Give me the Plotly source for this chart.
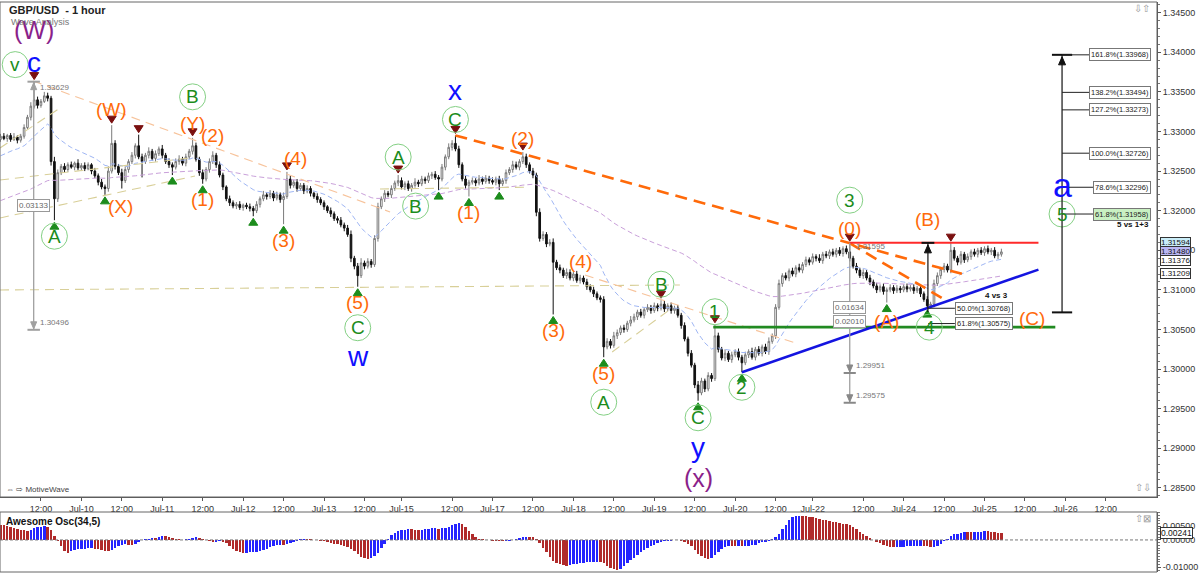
import plotly.graph_objects as go

BASE, PIP = 1.3, 1e-4

# ---------------- data (prices in pips above 1.3000) ----------------
pre_close = [182, 186, 184, 188, 185, 181, 183, 187, 190, 186, 184, 180, 183, 186, 189,
             187, 185, 172, 170, 174, 168, 171, 169, 173, 170, 167, 172, 169, 171, 170,
             192, 214, 238, 258, 271,
             276, 280, 278, 283, 285, 281, 284, 287, 283, 286, 289, 285, 288, 291, 290]

close_pips = [
    294, 291, 295, 290, 293, 289, 294, 305, 318, 332,
    340, 333, 338, 345, 342, 262, 215, 248, 256, 252,
    258, 255, 260, 254, 257, 253, 258, 250, 244, 236,
    230, 228, 250, 285, 256, 248, 238, 252, 262, 270,
    282, 268, 262, 270, 275, 266, 272, 278, 270, 262,
    258, 255, 262, 265, 260, 268, 275, 282, 265, 248,
    240, 252, 262, 270, 258, 245, 230, 215, 210, 206,
    208, 204, 207, 205, 203, 200, 208, 215, 220, 218,
    222, 216, 220, 214, 218, 240, 232, 236, 228, 232,
    225, 228, 222, 218, 214, 210, 205, 200, 196, 190,
    188, 182, 178, 170, 140, 130, 118, 134, 130, 136,
    132, 165, 205, 215, 222, 220, 228, 235, 238, 230,
    234, 228, 232, 236, 234, 240, 238, 244, 246, 242,
    240, 255, 268, 280, 285, 278, 258, 240, 232, 236,
    238, 235, 240, 237, 241, 238, 236, 240, 234, 238,
    248, 252, 258, 255, 262, 268, 258, 250, 245, 198,
    165, 170, 158, 160, 135, 128, 125, 118, 122, 115,
    120, 112, 115, 110, 104, 100, 95, 90, 88, 28,
    35, 30, 42, 46, 52, 50, 58, 62, 66, 72,
    68, 75, 78, 74, 80, 77, 82, 76, 80, 74,
    77, 68, 55, 38, 20, 5, -20, -30, -15, -25,
    -8, -12, 42, 25, 14, 20, 12, 18, 22, 15,
    8, 18, 22, 15, 25, 20, 28, 22, 35, 42,
    78, 108, 118, 115, 124, 120, 128, 125, 132, 138,
    135, 142, 140, 137, 145, 143, 148, 145, 150, 146,
    152, 148, 140, 130, 125, 118, 122, 115, 110, 105,
    100, 104, 98, 100, 103, 99, 102, 100, 104, 101,
    103, 99, 102, 95, 88, 80, 82, 108, 118, 126,
    130, 125, 150, 140, 135, 145, 138, 142, 148, 145,
    150, 147, 152, 148, 150, 143, 145, 148]

up_wick = [
    3, 4, 2, 3, 5, 2, 3, 4, 3, 5,
    23, 4, 3, 5, 4, 3, 6, 4, 3, 4,
    3, 4, 2, 5, 3, 4, 3, 2, 4, 3,
    4, 3, 6, 23, 4, 3, 5, 4, 3, 4,
    3, 14, 4, 3, 5, 3, 4, 3, 5, 3,
    4, 3, 4, 5, 3, 4, 3, 10, 4, 3,
    4, 3, 4, 5, 3, 4, 3, 2, 4, 3,
    3, 4, 2, 3, 4, 3, 4, 3, 5, 3,
    4, 3, 4, 3, 5, 9, 4, 3, 4, 3,
    3, 4, 3, 2, 4, 3, 3, 2, 4, 3,
    3, 4, 3, 4, 5, 3, 4, 6, 3, 4,
    3, 4, 5, 3, 4, 3, 4, 3, 7, 4,
    3, 4, 3, 5, 3, 4, 3, 4, 3, 4,
    3, 4, 3, 5, 4, 10, 4, 3, 4, 3,
    4, 3, 5, 3, 4, 3, 4, 3, 4, 3,
    4, 3, 5, 4, 3, 6, 4, 3, 4, 3,
    5, 4, 3, 4, 5, 3, 4, 3, 5, 4,
    3, 4, 4, 3, 4, 3, 4, 3, 3, 4,
    4, 3, 5, 4, 3, 4, 3, 5, 4, 3,
    4, 3, 4, 3, 4, 3, 5, 4, 3, 4,
    3, 4, 3, 4, 3, 4, 3, 5, 4, 3,
    4, 3, 14, 4, 3, 5, 3, 4, 3, 4,
    3, 4, 3, 5, 3, 4, 3, 4, 5, 3,
    4, 5, 3, 4, 3, 4, 3, 5, 3, 4,
    3, 4, 3, 5, 3, 4, 3, 4, 3, 4,
    3, 4, 11, 3, 4, 3, 4, 3, 4, 3,
    4, 3, 4, 3, 4, 3, 4, 3, 3, 4,
    3, 4, 3, 4, 3, 4, 3, 5, 4, 3,
    4, 3, 9, 4, 3, 4, 3, 4, 3, 4,
    3, 4, 3, 4, 3, 4, 3, 4]

dn_wick = [
    3, 2, 4, 3, 2, 4, 3, 3, 2, 4,
    3, 4, 3, 2, 4, 5, 27, 4, 3, 4,
    3, 2, 4, 3, 4, 3, 2, 4, 3, 4,
    3, 8, 4, 3, 4, 3, 10, 3, 4, 3,
    4, 3, 20, 3, 4, 3, 4, 3, 4, 3,
    4, 10, 3, 4, 3, 4, 3, 4, 3, 4,
    6, 3, 4, 3, 4, 3, 4, 3, 4, 3,
    4, 3, 4, 3, 4, 7, 3, 4, 3, 4,
    3, 4, 3, 4, 31, 3, 4, 3, 4, 3,
    4, 3, 4, 3, 4, 3, 4, 3, 4, 3,
    4, 3, 4, 3, 5, 4, 14, 3, 4, 3,
    4, 3, 4, 3, 4, 3, 4, 3, 4, 3,
    4, 3, 4, 3, 4, 3, 4, 3, 4, 3,
    14, 3, 4, 3, 4, 3, 4, 3, 4, 14,
    3, 4, 3, 4, 3, 4, 3, 4, 8, 3,
    4, 3, 4, 3, 4, 3, 4, 3, 4, 5,
    4, 3, 4, 3, 66, 3, 4, 3, 4, 3,
    4, 3, 4, 3, 4, 3, 4, 3, 4, 13,
    3, 4, 3, 4, 3, 4, 3, 4, 3, 4,
    3, 4, 3, 4, 3, 4, 3, 4, 3, 4,
    4, 3, 4, 3, 4, 3, 4, 10, 3, 4,
    3, 4, 3, 4, 3, 4, 3, 4, 3, 4,
    12, 3, 4, 3, 4, 3, 4, 3, 4, 3,
    4, 3, 4, 3, 4, 3, 4, 3, 4, 3,
    4, 3, 4, 3, 4, 3, 4, 3, 4, 3,
    4, 3, 4, 3, 4, 3, 4, 3, 4, 3,
    4, 3, 4, 14, 3, 4, 3, 4, 3, 4,
    3, 4, 3, 4, 3, 3, 3, 4, 3, 4,
    4, 3, 4, 3, 4, 3, 4, 3, 4, 3,
    4, 3, 4, 3, 4, 3, 4, 3]

tick_bars = [12, 24, 36, 48, 60, 72, 84, 96, 108, 119, 134, 146, 158, 170, 182, 194,
             206, 218, 230, 241, 256, 268, 280, 292, 304, 316, 328]
tick_text = ["12:00", "Jul-10", "12:00", "Jul-11", "12:00", "Jul-12", "12:00", "Jul-13",
             "12:00", "Jul-15", "12:00", "Jul-17", "12:00", "Jul-18", "12:00", "Jul-19",
             "12:00", "Jul-20", "12:00", "Jul-22", "12:00", "Jul-24", "12:00", "Jul-25",
             "12:00", "Jul-26", "12:00"]

# wave pivots (bar, High/Low) and their labels (bar, kind, text, style, dx px, dy px)
pivots = [(10, 'H'), (16, 'L'), (31, 'L'), (33, 'H'), (41, 'H'), (51, 'L'), (57, 'H'), (60, 'L'),
          (75, 'L'), (84, 'L'), (85, 'H'), (106, 'L'), (118, 'H'), (130, 'L'), (135, 'H'),
          (139, 'L'), (148, 'L'), (155, 'H'), (164, 'L'), (179, 'L'), (196, 'H'), (207, 'L'),
          (212, 'H'), (220, 'L'), (252, 'H'), (263, 'L'), (275, 'L'), (282, 'H')]
wave_labels = [
    (10, 'H', 'c', 'blue', 0, -19), (10, 'H', 'v', 'circle', -19, -17), (10, 'H', '(W)', 'purple', 0, -52),
    (16, 'L', 'A', 'circle', 0, 16),
    (31, 'L', '(X)', 'orange', 16, 12),
    (33, 'H', '(W)', 'orange', 0, -16),
    (57, 'H', '(Y)', 'orange', 0, -14), (57, 'H', 'B', 'circle', 0, -41),
    (60, 'L', '(1)', 'orange', 0, 16),
    (63, 'H', '(2)', 'orange', 0, -16),
    (84, 'L', '(3)', 'orange', 0, 16),
    (85, 'H', '(4)', 'orange', 9, -13),
    (106, 'L', '(5)', 'orange', 0, 16), (106, 'L', 'C', 'circle', 0, 41), (106, 'L', 'w', 'blue', 0, 70),
    (118, 'H', 'A', 'circle', 0, -18),
    (130, 'L', 'B', 'circle', -23, 16),
    (135, 'H', 'C', 'circle', 0, -16), (135, 'H', 'x', 'blue', 0, -45),
    (139, 'L', '(1)', 'orange', 0, 16),
    (155, 'H', '(2)', 'orange', 0, -14),
    (164, 'L', '(3)', 'orange', 0, 16),
    (172, 'H', '(4)', 'orange', 0, -13),
    (179, 'L', '(5)', 'orange', 0, 16), (179, 'L', 'A', 'circle', 0, 45),
    (196, 'H', 'B', 'circle', 0, -16),
    (207, 'L', 'C', 'circle', 0, 17), (207, 'L', 'y', 'blue', 0, 47), (207, 'L', '(x)', 'purple', 0, 77),
    (212, 'H', '1', 'circle', 0, -13),
    (220, 'L', '2', 'circle', 0, 15),
    (252, 'H', '(0)', 'orange', 0, -15), (252, 'H', '3', 'circle', 0, -43),
    (263, 'L', '(A)', 'orange', 0, 19),
    (275, 'L', '4', 'circle', 2, 19),
]
# projected labels (bar, price)
free_labels = [("(B)", 275.2, 1.31594, 'orange', 0, -23), ("(C)", 306.0, 1.30645, 'orange', 0, 0),
               ("a", 315.0, 1.32296, 'blue_big', 0, 0), ("5", 315.0, 1.31958, 'circle', 0, 0)]

# hand drawn lines: (bar0, price0, bar1, price1)
tan_lines = [(-0.15, 1.32792, 17.66, 1.33297), (-0.15, 1.32388, 56.2, 1.32665),
             (-0.15, 1.31908, 57.7, 1.32438), (-0.15, 1.30999, 201.6, 1.31062),
             (181.5, 1.30216, 199.3, 1.30772), (112.6, 1.32274, 157.1, 1.32297)]
peach_lines = [(9.64, 1.33638, 115.6, 1.31984), (173.4, 1.31188, 235.8, 1.30330)]
red_level, red_span = 1.31594, (252, 308)
green_level, green_span = 1.30530, (211.5, 313)

fib_bar, fib_base = 315, 1.30716
fib_levels = [("161.8%", 1.33968), ("138.2%", 1.33494), ("127.2%", 1.33273),
              ("100.0%", 1.32726), ("78.6%", 1.32296), ("61.8%", 1.31958)]
retr_levels = [("50.0%", 1.30768), ("61.8%", 1.30575)]
price_tags = [(1.31594, '#c9edf8'), (1.31480, '#b9b6f2'), (1.31376, 'white'), (1.31209, 'white')]
ao_tag = 0.00241

# ---------------- derived series ----------------
n = len(close_pips)
bars = list(range(n))
close = [BASE + c * PIP for c in close_pips]
open_ = [BASE + pre_close[-1] * PIP] + close[:-1]
high = [max(o, c) + w * PIP for o, c, w in zip(open_, close, up_wick)]
low = [min(o, c) - w * PIP for o, c, w in zip(open_, close, dn_wick)]

pre = [BASE + c * PIP for c in pre_close]
m = len(pre)
all_close = pre + close
all_mid = pre + [(h + l) / 2 for h, l in zip(high, low)]


def sma(vals, period, i):
    return sum(vals[i - period + 1:i + 1]) / period


ao_all = [sma(all_mid, 5, m + i) - sma(all_mid, 34, m + i) for i in range(-1, n)]
ao = ao_all[1:]
ao_colors = ['#2424ff' if ao_all[i + 1] >= ao_all[i] else '#b02a2a' for i in bars]


def ema(vals, period):
    k = 2 / (period + 1)
    out = [vals[0]]
    for v in vals[1:]:
        out.append(out[-1] + k * (v - out[-1]))
    return out


ema_fast = ema(all_close, 20)[m:]
ema_slow = ema(all_close, 100)[m:]

# ---------------- figure ----------------
W, H = 1200, 574
ML, MR, MT, MB = 0, 43, 2, 2
PW, PH = W - ML - MR, H - MT - MB
PXB = 3.37  # px per bar


def paper(px, py):
    return (px - ML) / PW, (H - MB - py) / PH


FONT = "Liberation Sans, Arial, sans-serif"
ORANGE, BLUE, PURPLE, GREEN = '#ff6a0a', '#1010ff', '#8a1f8a', '#1c8c1c'

fig = go.Figure()
fig.add_trace(go.Candlestick(
    x=bars, open=open_, high=high, low=low, close=close,
    increasing=dict(line=dict(color='#7a7a7a', width=1), fillcolor='white'),
    decreasing=dict(line=dict(color='#111111', width=1), fillcolor='#111111'),
    whiskerwidth=0, hoverinfo='skip', showlegend=False, xaxis='x', yaxis='y'))
fig.add_trace(go.Scatter(x=bars, y=ema_slow, mode='lines', hoverinfo='skip', showlegend=False,
                         line=dict(color='#c9a0da', width=1, dash='5px,3px')))
fig.add_trace(go.Scatter(x=bars, y=ema_fast, mode='lines', hoverinfo='skip', showlegend=False,
                         line=dict(color='#9fb6f4', width=1, dash='5px,3px')))
fig.add_trace(go.Bar(x=bars, y=ao, marker=dict(color=ao_colors, line=dict(width=0)), width=0.72,
                     hoverinfo='skip', showlegend=False, xaxis='x2', yaxis='y2'))

shapes, annos = [], []


def seg(x0, y0, x1, y1, color, width, dash=None, yref='y'):
    d = dict(type='line', xref='x', yref=yref, x0=x0, y0=y0, x1=x1, y1=y1,
             line=dict(color=color, width=width), layer='above')
    if dash:
        d['line']['dash'] = dash
    shapes.append(d)


def pxpath(xa, ya, path, color):
    shapes.append(dict(type='path', xref='x', yref='y', xsizemode='pixel', ysizemode='pixel',
                       xanchor=xa, yanchor=ya, path=path, fillcolor=color,
                       line=dict(color=color, width=1)))


def extend(x0, y0, x1, y1, xe):
    return y0 + (y1 - y0) * (xe - x0) / (x1 - x0)


for l in tan_lines:
    seg(*l, '#d8cf98', 1.1, '9px,6px')
for l in peach_lines:
    seg(*l, '#f7c39b', 1.1, '9px,6px')

# heavy orange trend lines through wave highs
b0, b1, be = 135, 252, 285.6
seg(b0, high[b0], be, extend(b0, high[b0], b1, high[b1], be), ORANGE, 2.6, '12px,7px')
seg(252, high[252], 280.3, 1.30873, ORANGE, 2.6, '12px,7px')
seg(red_span[0], red_level, red_span[1], red_level, '#ff2a2a', 2)
seg(green_span[0], green_level, green_span[1], green_level, '#218a21', 2.6)
b0, b1, be = 220, 275, 308
seg(b0, low[b0], be, extend(b0, low[b0], b1, low[b1], be), '#1414e0', 2.6)

# pivot triangles
for b, k in pivots:
    if k == 'H':
        pxpath(b, high[b], 'M -4.5,9 L 4.5,9 L 0,2 Z', '#7a1010')
    else:
        pxpath(b, low[b], 'M -4.5,-9 L 4.5,-9 L 0,-2 Z', '#1c8c1c')

STY = {
    'orange': dict(color=ORANGE, size=19, vs=0),
    'blue': dict(color=BLUE, size=28, vs=0),
    'blue_big': dict(color=BLUE, size=34, vs=2),
    'purple': dict(color=PURPLE, size=25, vs=0),
    'circle': dict(color=GREEN, size=19, vs=0),
}


def add_label(xa, ya, text, style, dx, dy):
    s = STY[style]
    annos.append(dict(x=xa, y=ya, xref='x', yref='y', text=text, showarrow=False,
                      xshift=dx, yshift=-dy + s['vs'], xanchor='center', yanchor='middle',
                      font=dict(family=FONT, size=s['size'], color=s['color'])))
    if style == 'circle':
        shapes.append(dict(type='circle', xref='x', yref='y', xsizemode='pixel', ysizemode='pixel',
                           xanchor=xa, yanchor=ya, x0=dx - 13, x1=dx + 13, y0=-dy - 13, y1=-dy + 13,
                           line=dict(color='#84d084', width=1)))


for b, k, t, s, dx, dy in wave_labels:
    add_label(b, high[b] if k == 'H' else low[b], t, s, dx, dy)
for t, b, p, s, dx, dy in free_labels:
    add_label(b, p, t, s, dx, dy)

# black arrow at wave 4
ab = 275.2
seg(ab, 1.3072, ab, red_level, '#111', 1.2)
seg(ab - 1.9, red_level, ab + 1.9, red_level, '#111', 2)
pxpath(ab, red_level, 'M -3.5,-10 L 3.5,-10 L 0,-2 Z', '#111')

# fibonacci extension tool
top = fib_levels[0][1]
seg(fib_bar, fib_base, fib_bar, top, '#111', 1.2)
seg(fib_bar - 3, top, fib_bar + 3, top, '#111', 2)
seg(fib_bar - 3, fib_base, fib_bar + 3, fib_base, '#111', 2)
pxpath(fib_bar, top, 'M -3.5,-10 L 3.5,-10 L 0,-2 Z', '#111')
for name, v in fib_levels:
    seg(fib_bar, v, 325, v, '#222', 1)
    annos.append(dict(x=341.5, y=v, xref='x', yref='y', text=f"{name}({v:.5f})", showarrow=False,
                      xanchor='right', yanchor='middle', bgcolor='#c9f0c2' if name == '61.8%' else 'white',
                      bordercolor='#777', borderwidth=1, borderpad=1,
                      font=dict(family=FONT, size=7.5, color='#222')))
annos.append(dict(x=341.5, y=1.31832, xref='x', yref='y', text="<b>5 vs 1+3</b>", showarrow=False,
                  xanchor='right', yanchor='middle', font=dict(family=FONT, size=8, color='#111')))

# retracement tool at wave 4
for name, v in retr_levels:
    seg(275.3, v, 283.2, v, '#222', 1)
    annos.append(dict(x=283.2, y=v, xref='x', yref='y', text=f"{name}({v:.5f})", showarrow=False,
                      xanchor='left', yanchor='middle', bgcolor='white', bordercolor='#777',
                      borderwidth=1, borderpad=1, font=dict(family=FONT, size=7.5, color='#222')))
annos.append(dict(x=299.6, y=1.30923, xref='x', yref='y', text="<b>4 vs 3</b>", showarrow=False,
                  xanchor='right', yanchor='middle', font=dict(family=FONT, size=8, color='#111')))

# grey measuring tools
GREY = '#a0a0a0'


def measure(b, p_top, p_bot, boxes, labels):
    seg(b, p_top, b, p_bot, GREY, 1.3)
    for txt, v in boxes:
        annos.append(dict(x=b, y=v, xref='x', yref='y', text=txt, showarrow=False, xanchor='center',
                          yanchor='middle', bgcolor='white', bordercolor='#999', borderwidth=1,
                          borderpad=1, font=dict(family=FONT, size=8, color='#666')))
    for txt, v, ys in labels:
        annos.append(dict(x=b + 1.3, y=v, xref='x', yref='y', text=txt, showarrow=False, xanchor='left',
                          yanchor='middle', yshift=ys, font=dict(family=FONT, size=8, color='#777')))


measure(9.85, 1.33629, 1.30496, [("0.03133", 1.3206)], [("1.33629", 1.33629, -6), ("1.30496", 1.30496, 7)])
seg(8.0, 1.33629, 11.7, 1.33629, GREY, 2)
seg(8.0, 1.30496, 11.7, 1.30496, GREY, 2)
pxpath(9.85, 1.33629, 'M -3,-8 L 3,-8 L 0,-1 Z', GREY)
pxpath(9.85, 1.30496, 'M -3,8 L 3,8 L 0,1 Z', GREY)

measure(252, 1.31594, 1.29575, [("0.01634", 1.30784), ("0.02010", 1.30595)],
        [("1.31595", 1.31594, -4), ("1.29951", 1.29951, 7), ("1.29575", 1.29575, 7)])
for v in (1.29951, 1.29575):
    seg(250.2, v, 253.8, v, '#888', 2)
    pxpath(252, v, 'M -3,8 L 3,8 L 0,1 Z', '#888')

# price tags on right axis
for v, bg in price_tags:
    annos.append(dict(x=1, y=v, xref='paper', yref='y', text=f"{v:.5f}", showarrow=False, xanchor='left',
                      xshift=3, yanchor='middle', bgcolor=bg, bordercolor='#333', borderwidth=1,
                      borderpad=0, font=dict(family=FONT, size=8, color='#111')))
annos.append(dict(x=1, y=ao_tag, xref='paper', yref='y2', text=f"{ao_tag:.5f}", showarrow=False,
                  xanchor='left', xshift=3, yanchor='middle', bgcolor='white', bordercolor='#333',
                  borderwidth=1, borderpad=0, font=dict(family=FONT, size=8.5, color='#111')))

# oscillator zero line
shapes.append(dict(type='line', xref='paper', yref='y2', x0=0, x1=1, y0=0, y1=0,
                   line=dict(color='#777', width=1, dash='3px,2px'), layer='above'))
# panel frames
shapes.append(dict(type='rect', xref='paper', yref='y domain', x0=0, x1=1, y0=0, y1=1,
                   line=dict(color='#666', width=1)))
shapes.append(dict(type='rect', xref='paper', yref='y2 domain', x0=0, x1=1, y0=0, y1=1,
                   line=dict(color='#666', width=1)))

# header texts
for txt, px, py, size, color in [("<b>GBP/USD  - 1 hour</b>", 7, 10, 11, '#222'),
                                 ("Wave Analysis", 9, 22, 9, '#777'),
                                 ("⇔ ⇨ MotiveWave", 4, 489, 8, '#444'),
                                 ("<b>Awesome Osc(34,5)</b>", 4, 521, 10, '#111'),
                                 ("⇩⇧", 1132, 8, 10, '#999'),
                                 ("⇧⇩", 1133, 487, 10, '#999'),
                                 ("⇧⊠", 1133, 518, 10, '#999')]:
    x, y = paper(px, py)
    annos.append(dict(x=x, y=y, xref='paper', yref='paper', text=txt, showarrow=False, xanchor='left',
                      yanchor='middle', font=dict(family=FONT, size=size, color=color)))

x_lo, x_hi = (0 - 0.5) / PXB, (PW - 0.5) / PXB
fig.update_layout(
    template='none',
    width=W, height=H, margin=dict(l=ML, r=MR, t=MT, b=MB, pad=0),
    paper_bgcolor='white', plot_bgcolor='white', showlegend=False, bargap=0,
    font=dict(family=FONT, size=9, color='#222'),
    xaxis=dict(domain=[0, 1], anchor='y', range=[x_lo, x_hi], tickvals=tick_bars, ticktext=tick_text,
               ticks='outside', ticklen=3, tickcolor='#555', showgrid=False, zeroline=False,
               showline=True, linecolor='#555', rangeslider=dict(visible=False), automargin=False,
               tickfont=dict(family=FONT, size=9, color='#333')),
    yaxis=dict(domain=[(H - MB - 497) / PH, 1], anchor='x', side='right', range=[1.28385, 1.34635],
               tick0=1.285, dtick=0.005, tickformat='.5f', ticks='outside', ticklen=3, tickcolor='#555',
               minor=dict(dtick=0.001, ticks='outside', ticklen=2, tickcolor='#777'),
               showgrid=False, zeroline=False, showline=True, linecolor='#555', automargin=False,
               tickfont=dict(family=FONT, size=9, color='#333')),
    xaxis2=dict(domain=[0, 1], anchor='y2', matches='x', showticklabels=False, showgrid=False,
                zeroline=False, showline=False, ticks='', automargin=False),
    yaxis2=dict(domain=[0, 60 / PH], anchor='x2', side='right', range=[-0.0117, 0.0102],
                tickvals=[0.005, 0, -0.01], ticktext=["0.00500", "0.00000", "-0.01000"],
                ticks='outside', ticklen=3, tickcolor='#555',
                minor=dict(dtick=0.001, ticks='outside', ticklen=2, tickcolor='#777'),
                showgrid=False, zeroline=False, showline=True, linecolor='#555', automargin=False,
                tickfont=dict(family=FONT, size=9, color='#333')),
    shapes=shapes, annotations=annos,
)

fig.write_html("out.html", config={'displayModeBar': False, 'staticPlot': True},
               post_script="document.body.style.margin='0';document.body.style.padding='0';"
                           "document.body.style.overflow='hidden';")
